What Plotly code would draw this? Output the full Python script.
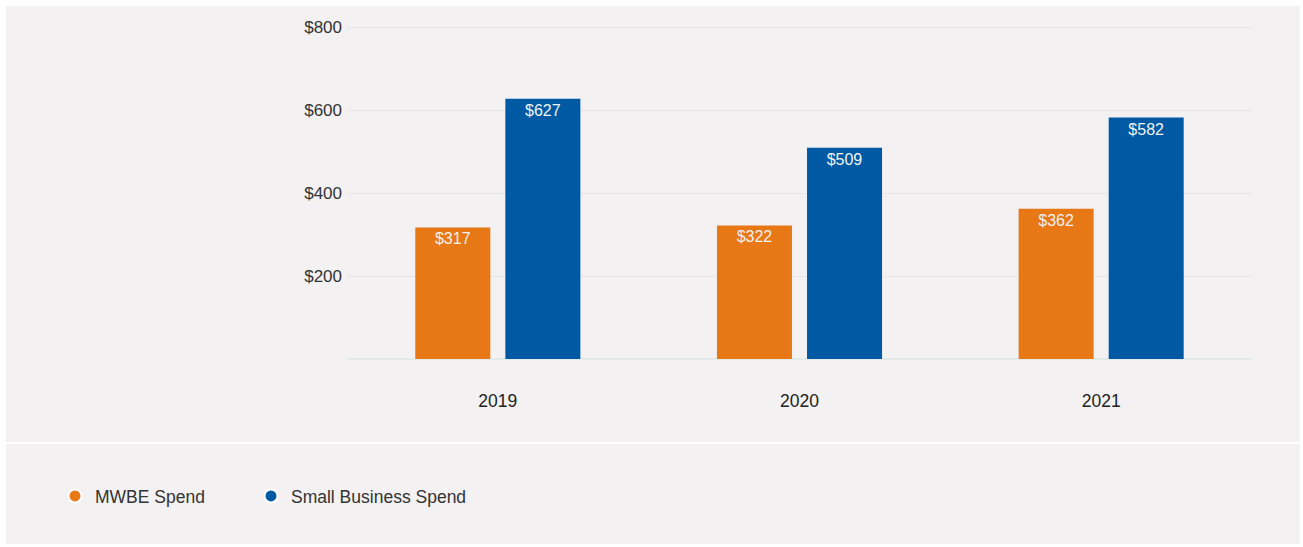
import plotly.graph_objects as go

years = ["2019", "2020", "2021"]
mwbe_spend = [317, 322, 362]
small_business_spend = [627, 509, 582]
series_names = ["MWBE Spend", "Small Business Spend"]
series_colors = ["#E87716", "#005AA3"]
y_tick_vals = [200, 400, 600, 800]
y_tick_text = ["$200", "$400", "$600", "$800"]

W, H = 1303, 547
L, R, T, B = 347, 1252, 25, 359
Y_MAX = 805

def px(x):
    return (x - L) / (R - L)

def py(y):
    return (B - y) / (B - T)

fig = go.Figure()
for name, vals, col in zip(series_names, [mwbe_spend, small_business_spend], series_colors):
    fig.add_trace(go.Bar(
        x=years, y=vals, name=name, marker=dict(color=col, line=dict(width=0)),
        text=["$" + str(v) for v in vals], textposition="inside",
        insidetextanchor="end", textangle=0,
        textfont=dict(color="#f2f2f2", size=16, family="Arial, Liberation Sans"),
        showlegend=False, hoverinfo="skip"))
legend_ids = ["legend", "legend2"]
legend_starts = [55, 251]
for name, col, lid in zip(series_names, series_colors, legend_ids):
    fig.add_trace(go.Scatter(
        x=[None], y=[None], mode="markers", name=name, legend=lid,
        marker=dict(symbol="circle", size=13, color=col, line=dict(color="white", width=2))))

def legend_cfg(x0):
    return dict(orientation="h", x=px(x0), xanchor="left", y=py(496), yanchor="middle",
                bgcolor="rgba(0,0,0,0)", font=dict(size=17.5, color="#333333"), itemclick=False)

fig.update_layout(
    width=W, height=H,
    margin=dict(l=L, r=W - R, t=T, b=H - B, pad=0),
    paper_bgcolor="white", plot_bgcolor="rgba(0,0,0,0)",
    barmode="group", bargap=0.403, bargroupgap=0.167,
    font=dict(family="Arial, Liberation Sans", color="#333333", size=17),
    showlegend=True,
    legend=legend_cfg(legend_starts[0]),
    legend2=legend_cfg(legend_starts[1]),
    shapes=[
        dict(type="rect", xref="paper", yref="paper", x0=px(6), x1=px(1300), y0=py(544), y1=py(6),
             fillcolor="#F3F1F2", line=dict(width=0), layer="below"),
        dict(type="line", xref="paper", yref="paper", x0=px(6), x1=px(1300), y0=py(443), y1=py(443),
             line=dict(color="#FFFFFF", width=2), layer="below"),
    ],
)
fig.update_xaxes(showgrid=False, showline=False, ticks="", ticklabelstandoff=29,
                 tickfont=dict(size=17.5, color="#222222"))
fig.update_yaxes(range=[0, Y_MAX], tickvals=y_tick_vals, ticktext=y_tick_text,
                 showgrid=True, gridcolor="#E6E6E6", gridwidth=1,
                 zeroline=True, zerolinecolor="#E3EAEA", zerolinewidth=2,
                 showline=False, ticks="", ticklabelstandoff=4,
                 tickfont=dict(size=17, color="#333333"))

fig.write_html("out.html")
